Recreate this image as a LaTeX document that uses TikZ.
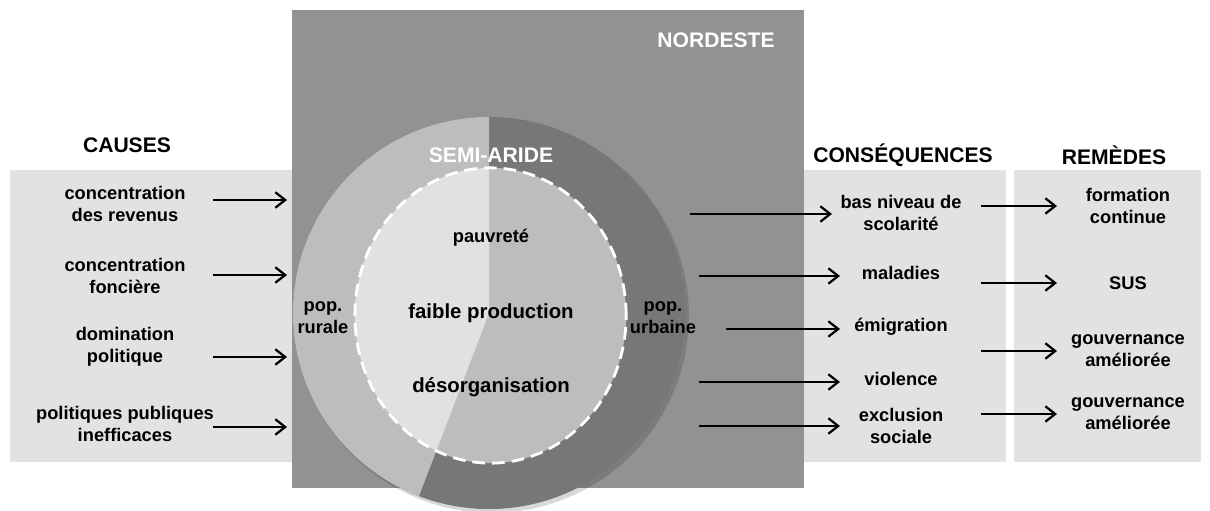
\documentclass[tikz,border=0pt]{standalone}
\usepackage{fontspec}
\setmainfont{Liberation Sans}
\usepackage{tikz}
\usetikzlibrary{positioning, arrows.meta}

\definecolor{boxgray}{HTML}{929292}
\definecolor{ringdark}{HTML}{777777}
\definecolor{ringlight}{HTML}{BDBDBD}
\definecolor{corelight}{HTML}{E1E1E1}
\definecolor{panelgray}{HTML}{E2E2E2}

\begin{document}
\begin{tikzpicture}[x=0.025cm, y=-0.025cm,
            title/.style={font=\fontsize{15}{18}\selectfont\bfseries, inner sep=0pt},
            item/.style={align=center, inner sep=0pt,
                    font=\fontsize{13}{15.6}\selectfont\bfseries},
            bigitem/.style={inner sep=0pt, font=\fontsize{14.5}{17}\selectfont\bfseries},
            arr/.style={-{Straight Barb[length=7pt, width=11pt]}, line width=1.6pt},
        ]
        \useasboundingbox (0,0) rectangle (1210,511);

        % panels and region
        \fill[panelgray] (10,170) rectangle (292,462);
        \fill[panelgray] (790,170) rectangle (1006,462);
        \fill[panelgray] (1014,170) rectangle (1201,462);
        \fill[boxgray] (292,10) rectangle (804,488);
        \node[title, text=white] (nordeste) at (716,40) {NORDESTE};

        % semi-arid circle
        \coordinate (ctr) at (489,313);
        \coordinate (core) at (490.5,315.5);
        \fill[black, opacity=0.15] ([shift={(3,3)}]ctr) circle[radius=4.92cm];
        \fill[ringdark] (ctr) circle[radius=4.9cm];
        \fill[ringlight] (core) ellipse[x radius=3.39cm, y radius=3.69cm];
        \begin{scope}
            \clip (ctr) -- (489,-100) -- (100,-100) -- (100,873) -- (275,873) -- cycle;
            \fill[ringlight] (ctr) circle[radius=4.9cm];
            \fill[corelight] (core) ellipse[x radius=3.39cm, y radius=3.69cm];
        \end{scope}
        \draw[white, line width=2pt, dash pattern=on 9pt off 5pt] (core) ellipse[x radius=3.39cm, y radius=3.69cm];

        \node[title, text=white] (semi) at (491,155) {SEMI-ARIDE};
        \node[item] (pauv) at (491,238) {pauvreté};
        \node[bigitem] (prod) at (491,313) {faible production};
        \node[bigitem] (desorg) at (491,387) {désorganisation};
        \node[item] (rurale) at (323,318) {pop.\\rurale};
        \node[item] (urbaine) at (663,318) {pop.\\urbaine};

        % causes
        \node[title] (causes) at (127,145) {CAUSES};
        \node[item] (c1) at (125,204) {concentration\\des revenus};
        \node[item] (c2) at (125,276) {concentration\\foncière};
        \node[item] (c3) at (125,347) {domination\\politique};
        \node[item] (c4) at (125,424) {politiques publiques\\inefficaces};

        \coordinate (lh) at (287,0);
        \coordinate (ca1) at (213,200);
        \coordinate (ca2) at (213,275);
        \coordinate (ca3) at (213,357);
        \coordinate (ca4) at (213,427);
        \draw[arr] (ca1) -- (ca1 -| lh);
        \draw[arr] (ca2) -- (ca2 -| lh);
        \draw[arr] (ca3) -- (ca3 -| lh);
        \draw[arr] (ca4) -- (ca4 -| lh);

        % consequences
        \node[title] (conseq) at (903,155) {CONSÉQUENCES};
        \node[item] (k1) at (901,213) {bas niveau de\\scolarité};
        \node[item] (k2) at (901,273) {maladies};
        \node[item] (k3) at (901,327) {émigration};
        \node[item] (k4) at (901,379) {violence};
        \node[item] (k5) at (901,426) {exclusion\\sociale};

        \coordinate (kh) at (840,0);
        \coordinate (ka1) at (690,214);
        \coordinate (kb1) at (832,214);
        \coordinate (ka2) at (699,276);
        \coordinate (ka3) at (726,329);
        \coordinate (ka4) at (699,382);
        \coordinate (ka5) at (699,426);
        \draw[arr] (ka1) -- (kb1);
        \draw[arr] (ka2) -- (ka2 -| kh);
        \draw[arr] (ka3) -- (ka3 -| kh);
        \draw[arr] (ka4) -- (ka4 -| kh);
        \draw[arr] (ka5) -- (ka5 -| kh);

        % remedies
        \node[title] (remedes) at (1114,155) {REMÈDES};
        \node[item] (r1) at (1128,206) {formation\\continue};
        \node[item] (r2) at (1128,283) {SUS};
        \node[item] (r3) at (1128,351) {gouvernance\\améliorée};
        \node[item] (r4) at (1128,414) {gouvernance\\améliorée};

        \coordinate (rt) at (981,0);
        \coordinate (rh) at (1057,0);
        \draw[arr] (rt |- r1) -- (rh |- r1);
        \draw[arr] (rt |- r2) -- (rh |- r2);
        \draw[arr] (rt |- r3) -- (rh |- r3);
        \draw[arr] (rt |- r4) -- (rh |- r4);

    \end{tikzpicture}
\end{document}
